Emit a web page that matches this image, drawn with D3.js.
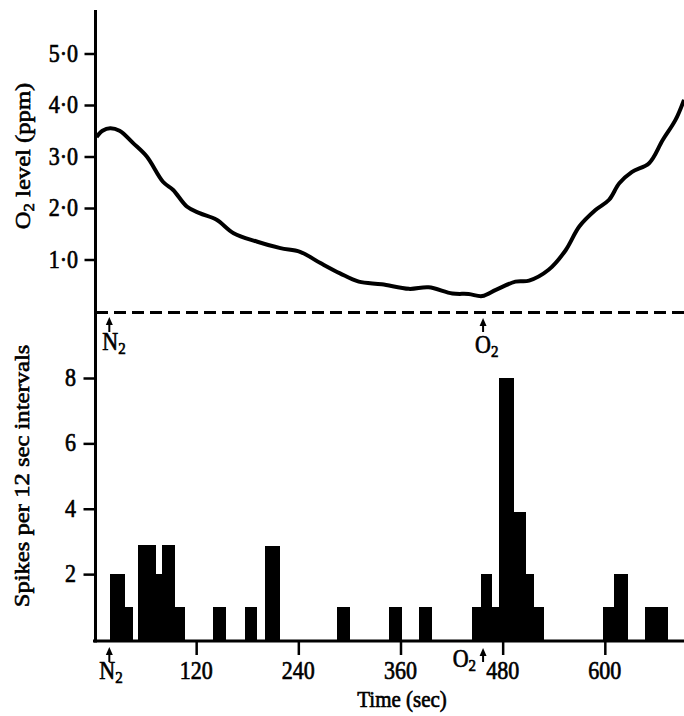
<!DOCTYPE html>
<html>
<head>
<meta charset="utf-8">
<script src="https://cdn.jsdelivr.net/npm/d3@7"></script>
<style>
  body { margin: 0; background: #fff; }
  svg { display: block; }
</style>
</head>
<body>
<svg></svg>
<script>
// O2 trace (time in sec, level in ppm)
const o2Time  = [3, 10, 19, 30, 46, 62, 81, 93, 109, 124, 144, 164, 191, 219, 242, 266, 289, 311, 338, 370, 393, 421, 440, 456, 472, 495, 511, 534, 554, 570, 589, 605, 617, 632, 652, 668, 683, 693];
const o2Level = [3.38, 3.50, 3.55, 3.50, 3.26, 3.00, 2.51, 2.35, 2.03, 1.90, 1.77, 1.51, 1.35, 1.22, 1.15, 0.93, 0.73, 0.57, 0.52, 0.43, 0.46, 0.34, 0.33, 0.29, 0.41, 0.57, 0.59, 0.80, 1.18, 1.64, 1.96, 2.16, 2.48, 2.70, 2.87, 3.32, 3.71, 4.10];

// spike histogram, bins as drawn (sec) and counts
const binStart = [19, 36, 52, 73, 80, 95, 140, 177, 201, 285, 346, 382, 444, 454, 468, 476, 493, 508, 517, 598, 611, 647, 658];
const binEnd   = [36, 46, 73, 80, 95, 107, 155, 191, 219, 301, 362, 397, 454, 468, 476, 493, 508, 517, 529, 611, 627, 658, 674];
const spikes   = [2, 1, 2.9, 2, 2.9, 1, 1, 1, 2.85, 1, 1, 1, 1, 2, 1, 8, 3.9, 2, 1, 1, 2, 1, 1];

const levelTicks = [1, 2, 3, 4, 5];
const spikeTicks = [2, 4, 6, 8];
const timeTicks = [120, 240, 360, 480, 600];
const gasNames = ["N", "O"];
const gasTimes = [18, 457];

const width = 684, height = 716;
const svg = d3.select("svg").attr("width", width).attr("height", height);

const x = d3.scaleLinear().domain([0, 693]).range([94, 684]);
const yLevel = d3.scaleLinear().domain([0, 5]).range([311, 53.5]);
const ySpike = d3.scaleLinear().domain([0, 8]).range([639.5, 378]);

const font = '"Liberation Serif", "Times New Roman", serif';
const fs = 22, stretch = 1.12;

// text helper: parts are strings, {sub: "2"} makes a subscript
function label(x0, y0, parts, anchor, rot, size) {
    const t = svg.append("text")
        .attr("transform", "translate(" + x0 + "," + y0 + ") scale(1," + stretch + ")" + (rot ? " rotate(-90)" : ""))
        .attr("text-anchor", anchor || "middle")
        .attr("font-family", font)
        .attr("font-size", size || fs)
        .attr("fill", "#000")
        .attr("stroke", "#000")
        .attr("stroke-width", 0.6);
    let shifted = false;
    parts.forEach(p => {
        if (typeof p === "string") {
            t.append("tspan").attr("dy", shifted ? -4 : 0).text(p);
            shifted = false;
        } else {
            t.append("tspan").attr("font-size", 15).attr("dy", 4).text(p.sub);
            shifted = true;
        }
    });
    return t;
}

function arrow(xp, yTip, yTail) {
    svg.append("line")
        .attr("x1", xp).attr("x2", xp)
        .attr("y1", yTip + 4).attr("y2", yTail)
        .attr("stroke", "#000").attr("stroke-width", 2);
    svg.append("path")
        .attr("d", "M" + (xp - 3.5) + "," + (yTip + 8) + "L" + xp + "," + yTip + "L" + (xp + 3.5) + "," + (yTip + 8) + "Z")
        .attr("fill", "#000");
}

// ---- top panel ----
svg.append("line")
    .attr("x1", 96).attr("x2", 684)
    .attr("y1", yLevel(0) + 1.5).attr("y2", yLevel(0) + 1.5)
    .attr("stroke", "#000").attr("stroke-width", 3)
    .attr("stroke-dasharray", "12,6");

const trace = o2Time.map((t, i) => [t, o2Level[i]]);
svg.append("path")
    .datum(trace)
    .attr("fill", "none")
    .attr("stroke", "#000")
    .attr("stroke-width", 4)
    .attr("stroke-linejoin", "round")
    .attr("d", d3.line()
        .x(d => x(d[0]))
        .y(d => yLevel(d[1]))
        .curve(d3.curveCatmullRom));

const axTop = svg.append("g")
    .attr("transform", "translate(95.5,0)")
    .call(d3.axisLeft(yLevel).tickValues(levelTicks).tickSize(11).tickFormat(""));
axTop.select(".domain").remove();
axTop.selectAll("line").attr("stroke", "#000").attr("stroke-width", 2.5);
levelTicks.forEach(v => label(78, yLevel(v) + 8, [v + "\u00b70"], "end"));

label(30, 156, ["O", {sub: "2"}, " level (ppm)"], "middle", true);

// gas switch markers, top
arrow(x(gasTimes[0]), 317, 332);
label(x(gasTimes[0]) - 7, 350, [gasNames[0], {sub: "2"}], "start");
arrow(x(gasTimes[1]), 318, 332);
label(x(gasTimes[1]) - 8, 353, [gasNames[1], {sub: "2"}], "start");

// ---- bottom panel ----
const bins = binStart.map((s, i) => ({s: s, e: binEnd[i], n: spikes[i]}));
svg.append("g")
    .attr("shape-rendering", "crispEdges")
    .selectAll("rect")
    .data(bins)
    .join("rect")
    .attr("x", d => x(d.s))
    .attr("width", d => x(d.e) - x(d.s))
    .attr("y", d => ySpike(d.n))
    .attr("height", d => ySpike(0) - ySpike(d.n) + 2)
    .attr("fill", "#000");

const axSpike = svg.append("g")
    .attr("transform", "translate(95.5,0)")
    .call(d3.axisLeft(ySpike).tickValues(spikeTicks).tickSize(12).tickFormat(""));
axSpike.select(".domain").remove();
axSpike.selectAll("line").attr("stroke", "#000").attr("stroke-width", 2.5);
spikeTicks.forEach(v => label(76, ySpike(v) + 8, [String(v)], "end"));

label(29, 476, ["Spikes per 12 sec intervals"], "middle", true);

const axTime = svg.append("g")
    .attr("transform", "translate(0,641)")
    .call(d3.axisBottom(x).tickValues(timeTicks).tickSize(14).tickFormat(""));
axTime.select(".domain").remove();
axTime.selectAll("line").attr("stroke", "#000").attr("stroke-width", 2.5);
timeTicks.forEach(t => label(x(t), 679, [String(t)]));

label(402, 707, ["Time (sec)"], "middle", false, 21);

// gas switch markers, bottom
arrow(x(gasTimes[0]), 647, 662);
label(x(gasTimes[0]) - 10, 679, [gasNames[0], {sub: "2"}], "start");
arrow(x(gasTimes[1]), 648, 662);
label(x(gasTimes[1]) - 7, 667, [gasNames[1], {sub: "2"}], "end");

// axis lines
svg.append("line")
    .attr("x1", 95.5).attr("x2", 95.5).attr("y1", 10).attr("y2", 642.5)
    .attr("stroke", "#000").attr("stroke-width", 3);
svg.append("line")
    .attr("x1", 93).attr("x2", 684).attr("y1", 641).attr("y2", 641)
    .attr("stroke", "#000").attr("stroke-width", 3);
</script>
</body>
</html>
